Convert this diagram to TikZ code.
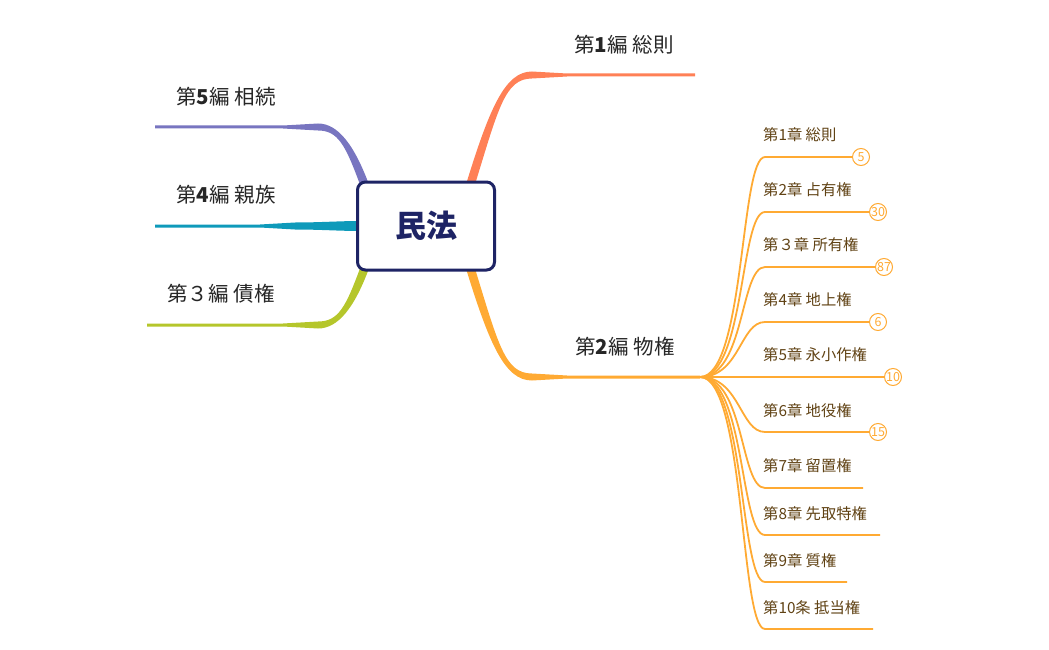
\documentclass[tikz,border=0pt]{standalone}
\usepackage{fontspec}
\setmainfont{Noto Sans CJK JP}
\usepackage{xcolor}
\usetikzlibrary{positioning,calc}
\definecolor{navy}{RGB}{30,36,101}
\definecolor{coral}{RGB}{255,128,86}
\definecolor{amber}{RGB}{255,170,51}
\definecolor{lilac}{RGB}{120,117,192}
\definecolor{tealb}{RGB}{14,154,186}
\definecolor{olivg}{RGB}{181,198,43}
\definecolor{bark}{RGB}{96,66,20}

% tapered branch: colour, start, ctrl1, ctrl2, bend, end, half width at start
\newcommand{\limb}[7]{%
  \fill[#1] ($(#2)+(#7)$) .. controls ($(#3)+(#7)$) and ($(#4)+(0,-3.5)$) .. ($(#5)+(0,-3.5)$)
    -- ($(#5)!35pt!(#6)+(0,-1.5)$) -- ($(#6)+(0,-1.5)$) -- ($(#6)+(0,1.5)$)
    -- ($(#5)!35pt!(#6)+(0,1.5)$) -- ($(#5)+(0,3.5)$)
    .. controls ($(#4)+(0,3.5)$) and ($(#3)-(#7)$) .. ($(#2)-(#7)$) -- cycle;}

\tikzset{
  lab/.style={font=\fontsize{20.5}{24}\selectfont, text=black!85},
  ctext/.style={font=\fontsize{15.3}{18}\selectfont, text=bark, anchor=west, inner sep=0pt},
  chap/.style={draw=amber, line width=1.8pt},
  badge/.style={circle, draw=amber, line width=1pt, fill=white, inner sep=0pt, minimum size=17pt,
    text=amber, font=\fontsize{12.5}{13}\selectfont}
}

\begin{document}
\begin{tikzpicture}[x=1pt, y=-1pt]
  \useasboundingbox (0,0) rectangle (1049,650);

  % Rami
  \coordinate (s1) at (470,186);  \coordinate (k1) at (532,75);  \coordinate (e1) at (695,75);
  \coordinate (s2) at (470,267);  \coordinate (k2) at (532,377); \coordinate (hub) at (700,377);
  \coordinate (s5) at (365,186);  \coordinate (k5) at (318,127); \coordinate (e5) at (155,127);
  \coordinate (s4) at (360,226);  \coordinate (k4) at (295,226); \coordinate (e4) at (155,226);
  \coordinate (s3) at (365,267);  \coordinate (k3) at (318,325); \coordinate (e3) at (147,325);

  \limb{coral}{s1}{494,108}{505,75}{k1}{e1}{-4.5,0}
  \limb{amber}{s2}{494,345}{505,377}{k2}{hub}{4.5,0}
  \limb{lilac}{s5}{350,145}{338,127}{k5}{e5}{4.5,0}
  \limb{tealb}{s4}{340,226}{320,226}{k4}{e4}{0,-5}
  \limb{olivg}{s3}{350,308}{338,325}{k3}{e3}{-4.5,0}

  % Centro
  \node[draw=navy, line width=3pt, rounded corners=8pt, fill=white, minimum width=137pt,
    minimum height=88pt, text=navy, font=\fontsize{31}{34}\selectfont\bfseries] (civ) at (426,226) {民法};

  \node[lab] (n1) at (624,45) {第{\bfseries 1}編 総則};
  \node[lab] (n2) at (625,347) {第{\bfseries 2}編 物権};
  \node[lab] (n5) at (226,97) {第{\bfseries 5}編 相続};
  \node[lab] (n4) at (226,195) {第{\bfseries 4}編 親族};
  \node[lab] (n3) at (221,294) {第３編 債権};

  % Capitoli
  \coordinate (c1) at (765,157);  \node[badge] (b1) at (861,157) {5};
  \coordinate (c2) at (765,212);  \node[badge] (b2) at (878,212) {30};
  \coordinate (c3) at (765,267);  \node[badge] (b3) at (884,267) {87};
  \coordinate (c4) at (765,322);  \node[badge] (b4) at (878,322) {6};
  \coordinate (c5) at (765,377);  \node[badge] (b5) at (893,377) {10};
  \coordinate (c6) at (765,432);  \node[badge] (b6) at (878,432) {15};
  \coordinate (c7) at (765,488);  \coordinate (f7) at (863,488);
  \coordinate (c8) at (765,535);  \coordinate (f8) at (880,535);
  \coordinate (c9) at (765,582);  \coordinate (f9) at (847,582);
  \coordinate (c10) at (765,629); \coordinate (f10) at (873,629);

  \draw[chap] (hub) .. controls +(45,0) and ($(c1)+(-25,0)$) .. (c1) -- (b1);
  \draw[chap] (hub) .. controls +(45,0) and ($(c2)+(-25,0)$) .. (c2) -- (b2);
  \draw[chap] (hub) .. controls +(45,0) and ($(c3)+(-25,0)$) .. (c3) -- (b3);
  \draw[chap] (hub) .. controls +(40,0) and ($(c4)+(-25,0)$) .. (c4) -- (b4);
  \draw[chap] (hub) -- (b5);
  \draw[chap] (hub) .. controls +(40,0) and ($(c6)+(-25,0)$) .. (c6) -- (b6);
  \draw[chap] (hub) .. controls +(45,0) and ($(c7)+(-25,0)$) .. (c7) -- (f7);
  \draw[chap] (hub) .. controls +(45,0) and ($(c8)+(-25,0)$) .. (c8) -- (f8);
  \draw[chap] (hub) .. controls +(45,0) and ($(c9)+(-25,0)$) .. (c9) -- (f9);
  \draw[chap] (hub) .. controls +(45,0) and ($(c10)+(-25,0)$) .. (c10) -- (f10);

  \node[ctext] (t1) at (763,135) {第1章 総則};
  \node[ctext] (t2) at (763,190) {第2章 占有権};
  \node[ctext] (t3) at (763,245) {第３章 所有権};
  \node[ctext] (t4) at (763,300) {第4章 地上権};
  \node[ctext] (t5) at (763,355) {第5章 永小作権};
  \node[ctext] (t6) at (763,411) {第6章 地役権};
  \node[ctext] (t7) at (763,466) {第7章 留置権};
  \node[ctext] (t8) at (763,514) {第8章 先取特権};
  \node[ctext] (t9) at (763,561) {第9章 質権};
  \node[ctext] (t10) at (763,608) {第10条 抵当権};
\end{tikzpicture}
\end{document}
